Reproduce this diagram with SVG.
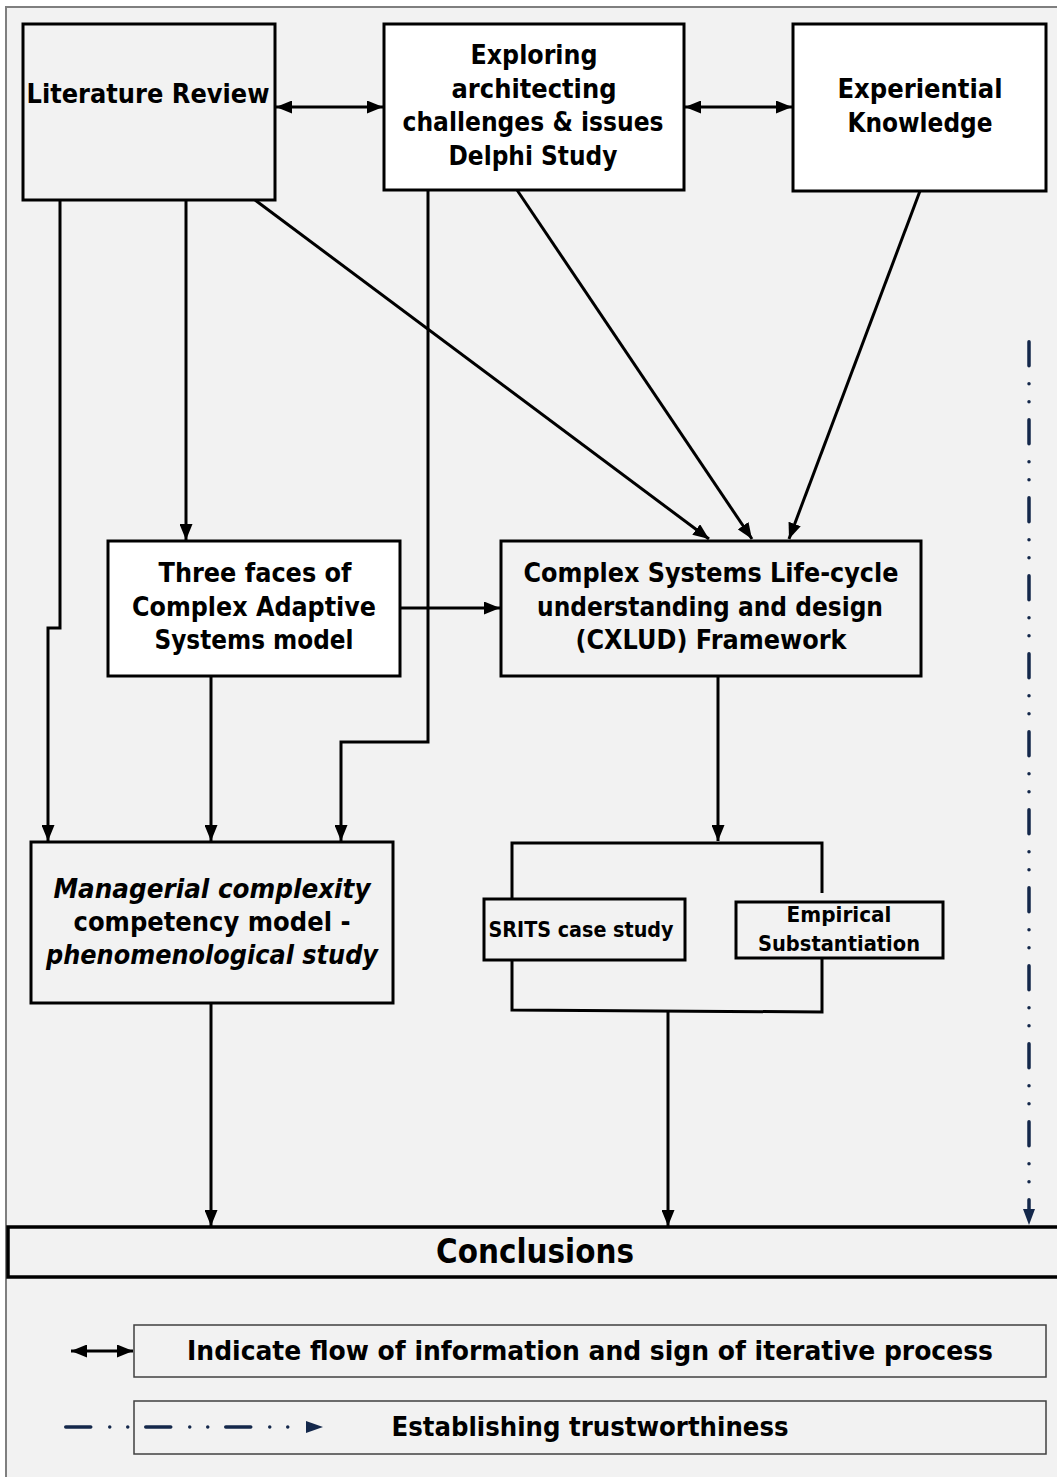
<svg xmlns="http://www.w3.org/2000/svg" width="1057" height="1477" viewBox="0 0 1057 1477">
  <defs>
    <style>
      .box { stroke: #000; stroke-width: 3; }
      .grey { fill: #f2f2f2; }
      .white { fill: #ffffff; }
      .lbl { font-family: "DejaVu Sans", Verdana, sans-serif; font-weight: bold; fill: #000; text-anchor: middle; }
      .m { font-size: 26px; }
      .s { font-size: 22px; }
      .it { font-style: italic; }
      .wire { fill: none; stroke: #000; stroke-width: 3; }
      .trust { fill: none; stroke: #14284b; stroke-width: 3.5; stroke-linecap: round; }
      .legend { fill: #f2f2f2; stroke: #404040; stroke-width: 1.5; }
    </style>
    <marker id="arrow" markerUnits="userSpaceOnUse" markerWidth="17" markerHeight="13" refX="16" refY="6.5" orient="auto-start-reverse">
      <path d="M0,0 L16,6.5 L0,13 z" fill="#000"/>
    </marker>
  </defs>

  <!-- page background -->
  <rect x="6" y="7" width="1060" height="1480" fill="#f2f2f2" stroke="#7f7f7f" stroke-width="2"/>

  <!-- connectors -->
  <g id="connectors">
    <line class="wire" x1="276" y1="107" x2="383" y2="107" marker-start="url(#arrow)" marker-end="url(#arrow)"/>
    <line class="wire" x1="685" y1="107" x2="792" y2="107" marker-start="url(#arrow)" marker-end="url(#arrow)"/>
    <polyline class="wire" points="60,200 60,628 48,628 48,841" marker-end="url(#arrow)"/>
    <line class="wire" x1="186" y1="200" x2="186" y2="540" marker-end="url(#arrow)"/>
    <line class="wire" x1="255" y1="200" x2="709" y2="539" marker-end="url(#arrow)"/>
    <line class="wire" x1="517" y1="190" x2="752" y2="539" marker-end="url(#arrow)"/>
    <line class="wire" x1="920" y1="191" x2="789" y2="539" marker-end="url(#arrow)"/>
    <polyline class="wire" points="428,190 428,742 341,742 341,841" marker-end="url(#arrow)"/>
    <line class="wire" x1="400" y1="608" x2="500" y2="608" marker-end="url(#arrow)"/>
    <line class="wire" x1="211" y1="676" x2="211" y2="841" marker-end="url(#arrow)"/>
    <line class="wire" x1="718" y1="676" x2="718" y2="841" marker-end="url(#arrow)"/>
    <!-- bracket around the case study pair -->
    <polyline class="wire" points="512,899 512,843 822,843 822,893"/>
    <polyline class="wire" points="512,960 512,1010 822,1012 822,958"/>
    <line class="wire" x1="668" y1="1011" x2="668" y2="1226" marker-end="url(#arrow)"/>
    <line class="wire" x1="211" y1="1003" x2="211" y2="1226" marker-end="url(#arrow)"/>
    <!-- trustworthiness track -->
    <line class="trust" x1="1029" y1="341.75" x2="1029" y2="1209" stroke-dasharray="24 18 0 18 0 18"/>
    <polygon points="1023,1209 1035,1209 1029,1225" fill="#14284b"/>
  </g>

  <g id="literature-review">
    <rect class="box grey" x="23" y="24" width="252" height="176"/>
    <text class="lbl m" x="148" y="103" textLength="243" lengthAdjust="spacingAndGlyphs">Literature Review</text>
  </g>

  <g id="delphi-study">
    <rect class="box white" x="384" y="24" width="300" height="166"/>
    <text class="lbl m" x="534" y="64" textLength="127" lengthAdjust="spacingAndGlyphs">Exploring</text>
    <text class="lbl m" x="534" y="97.5" textLength="165" lengthAdjust="spacingAndGlyphs">architecting</text>
    <text class="lbl m" x="533" y="131" textLength="261" lengthAdjust="spacingAndGlyphs">challenges &amp; issues</text>
    <text class="lbl m" x="533" y="164.5" textLength="169" lengthAdjust="spacingAndGlyphs">Delphi Study</text>
  </g>

  <g id="experiential-knowledge">
    <rect class="box white" x="793" y="24" width="253" height="167"/>
    <text class="lbl m" x="920" y="98" textLength="165" lengthAdjust="spacingAndGlyphs">Experiential</text>
    <text class="lbl m" x="920" y="131.5" textLength="145" lengthAdjust="spacingAndGlyphs">Knowledge</text>
  </g>

  <g id="three-faces">
    <rect class="box white" x="108" y="541" width="292" height="135"/>
    <text class="lbl m" x="255" y="582" textLength="193" lengthAdjust="spacingAndGlyphs">Three faces of</text>
    <text class="lbl m" x="254" y="615.5" textLength="244" lengthAdjust="spacingAndGlyphs">Complex Adaptive</text>
    <text class="lbl m" x="254" y="649" textLength="199" lengthAdjust="spacingAndGlyphs">Systems model</text>
  </g>

  <g id="cxlud-framework">
    <rect class="box grey" x="501" y="541" width="420" height="135"/>
    <text class="lbl m" x="711" y="582" textLength="375" lengthAdjust="spacingAndGlyphs">Complex Systems Life-cycle</text>
    <text class="lbl m" x="710" y="615.5" textLength="346" lengthAdjust="spacingAndGlyphs">understanding and design</text>
    <text class="lbl m" x="711" y="649" textLength="271" lengthAdjust="spacingAndGlyphs">(CXLUD) Framework</text>
  </g>

  <g id="managerial-complexity">
    <rect class="box grey" x="31" y="842" width="362" height="161"/>
    <text class="lbl m it" x="212" y="898" textLength="317" lengthAdjust="spacingAndGlyphs">Managerial complexity</text>
    <text class="lbl m" x="212" y="931" textLength="277" lengthAdjust="spacingAndGlyphs">competency model -</text>
    <text class="lbl m it" x="212" y="964" textLength="332" lengthAdjust="spacingAndGlyphs">phenomenological study</text>
  </g>

  <g id="srits-case-study">
    <rect class="box grey" x="484" y="899" width="201" height="61"/>
    <text class="lbl s" x="581" y="936.5" textLength="185" lengthAdjust="spacingAndGlyphs">SRITS case study</text>
  </g>

  <g id="empirical-substantiation">
    <rect class="box grey" x="736" y="902" width="207" height="56"/>
    <text class="lbl s" x="839" y="922" textLength="105" lengthAdjust="spacingAndGlyphs">Empirical</text>
    <text class="lbl s" x="839" y="951" textLength="162" lengthAdjust="spacingAndGlyphs">Substantiation</text>
  </g>

  <g id="conclusions">
    <rect x="8" y="1227" width="1060" height="50" fill="#f2f2f2" stroke="#000" stroke-width="3.5"/>
    <text class="lbl" font-size="34" x="535" y="1263" textLength="198" lengthAdjust="spacingAndGlyphs">Conclusions</text>
  </g>

  <g id="legend-information-flow">
    <rect class="legend" x="134" y="1325" width="912" height="52"/>
    <line class="wire" x1="71" y1="1351" x2="133" y2="1351" marker-start="url(#arrow)" marker-end="url(#arrow)"/>
    <text class="lbl m" x="590" y="1360" textLength="806" lengthAdjust="spacingAndGlyphs">Indicate flow of information and sign of iterative process</text>
  </g>

  <g id="legend-trustworthiness">
    <rect class="legend" x="134" y="1401" width="912" height="53"/>
    <line class="trust" x1="65.75" y1="1427" x2="300" y2="1427" stroke-dasharray="25 19 0 18 0 18"/>
    <polygon points="306,1421 323,1427 306,1433" fill="#14284b"/>
    <text class="lbl m" x="590" y="1436" textLength="397" lengthAdjust="spacingAndGlyphs">Establishing trustworthiness</text>
  </g>
</svg>
